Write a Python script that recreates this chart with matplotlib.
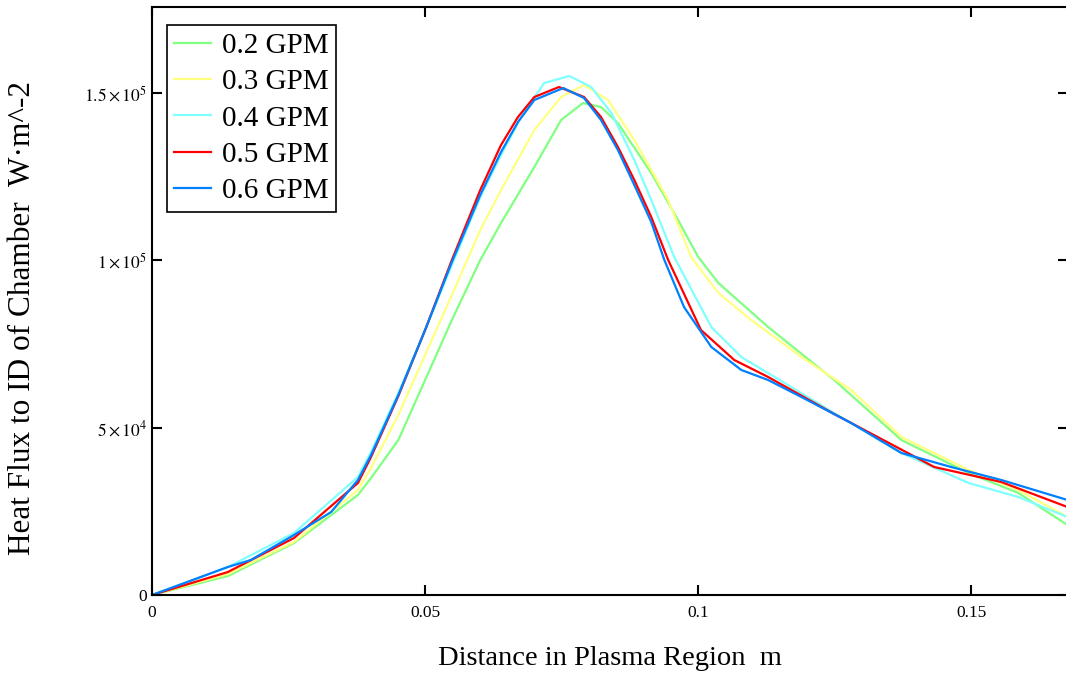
import numpy as np
import matplotlib
matplotlib.use("Agg")
import matplotlib.pyplot as plt
from matplotlib.ticker import FixedLocator, FuncFormatter

plt.rcParams['font.family'] = ['Liberation Serif', 'DejaVu Serif']
plt.rcParams['mathtext.fontset'] = 'stix'

# distance (m) and heat flux (W/m^2), one set per flow rate
x_02 = [0, 0.0139, 0.0260, 0.0377, 0.0401, 0.0451, 0.0500, 0.0549, 0.0601, 0.0639, 0.0700,
        0.0749, 0.0789, 0.0822, 0.0853, 0.0914, 0.0956, 0.1000, 0.1037, 0.1128, 0.1249,
        0.1372, 0.1495, 0.1586, 0.1676]
y_02 = [0, 5680, 15540, 29880, 34960, 46310, 64240, 82170, 100100, 111150, 127890,
        141930, 147010, 145810, 141030, 126090, 114140, 101000, 93230, 80080, 64240,
        46310, 36450, 30480, 20920]

x_03 = [0, 0.0139, 0.0260, 0.0377, 0.0401, 0.0451, 0.0500, 0.0549, 0.0601, 0.0639, 0.0700,
        0.0749, 0.0791, 0.0835, 0.0883, 0.0945, 0.0987, 0.1037, 0.1097, 0.1189, 0.1280,
        0.1372, 0.1495, 0.1586, 0.1676]
y_03 = [0, 6270, 15840, 31370, 37950, 53780, 71710, 89640, 109060, 121010, 138940,
        148800, 152390, 147910, 135950, 118030, 101000, 90240, 82170, 71110, 61250,
        47210, 37350, 31370, 23310]

x_04 = [0, 0.0139, 0.0260, 0.0377, 0.0401, 0.0451, 0.0500, 0.0549, 0.0601, 0.0639, 0.0676,
        0.0718, 0.0764, 0.0804, 0.0841, 0.0883, 0.0914, 0.0956, 0.1024, 0.1079, 0.1158,
        0.1249, 0.1372, 0.1495, 0.1586, 0.1676]
y_04 = [0, 8370, 18530, 35260, 42730, 60360, 79180, 98600, 118920, 131470, 142830,
        152990, 155080, 151790, 144020, 129980, 118030, 101000, 80080, 71110, 63350,
        54380, 42430, 33470, 29280, 23310]

x_05 = [0, 0.0139, 0.0260, 0.0377, 0.0401, 0.0451, 0.0500, 0.0549, 0.0601, 0.0639, 0.0670,
        0.0700, 0.0745, 0.0791, 0.0822, 0.0853, 0.0883, 0.0914, 0.0945, 0.1005, 0.1066,
        0.1128, 0.1249, 0.1432, 0.1555, 0.1676]
y_05 = [0, 6870, 17030, 33470, 41230, 59460, 79180, 100100, 121010, 134460, 142830,
        148800, 151790, 148800, 142830, 133860, 124000, 112950, 100100, 79180, 70220,
        65140, 54080, 38250, 33760, 26290]

x_06 = [0, 0.0139, 0.0181, 0.0260, 0.0328, 0.0377, 0.0401, 0.0451, 0.0500, 0.0549, 0.0601,
        0.0639, 0.0670, 0.0700, 0.0753, 0.0791, 0.0822, 0.0853, 0.0883, 0.0914, 0.0938,
        0.0974, 0.1024, 0.1079, 0.1128, 0.1189, 0.1280, 0.1372, 0.1463, 0.1555, 0.1676]
y_06 = [0, 8370, 10460, 17930, 24800, 34360, 41830, 59760, 79180, 99500, 119520,
        132370, 141330, 147910, 151490, 148500, 141930, 132970, 122510, 111450, 100100,
        86050, 74100, 67230, 64240, 59160, 51390, 42430, 38250, 34360, 28390]

labels = ['0.2 GPM', '0.3 GPM', '0.4 GPM', '0.5 GPM', '0.6 GPM']
colors = ['#80ff80', '#ffff80', '#80ffff', '#ff0000', '#0080ff']

fig = plt.figure(figsize=(10.66, 6.75), dpi=100)
ax = fig.add_axes([152 / 1066, 80 / 675, 916 / 1066, 588 / 675])

xs = [x_02, x_03, x_04, x_05, x_06]
ys = [y_02, y_03, y_04, y_05, y_06]
for x, y, lab, c in zip(xs, ys, labels, colors):
    ax.plot(x, y, color=c, lw=1.6, label=lab)

ax.set_xlim(0, 0.1677)
ax.set_ylim(0, 1.757e5)

ax.xaxis.set_major_locator(FixedLocator([0, 0.05, 0.1, 0.15]))
ax.yaxis.set_major_locator(FixedLocator([0, 5e4, 1e5, 1.5e5]))
ax.xaxis.set_major_formatter(FuncFormatter(lambda v, p: '0' if v == 0 else ('%g' % v)))
ylabs = {0: '0', 5e4: r'$5\times10^{4}$', 1e5: r'$1\times10^{5}$', 1.5e5: r'$1.5\times10^{5}$'}
ax.yaxis.set_major_formatter(FuncFormatter(lambda v, p: ylabs.get(v, '')))

ax.tick_params(direction='in', length=7, width=1.5, top=True, right=True,
               labelsize=12.5)
ax.tick_params(axis='x', pad=7)
ax.tick_params(axis='y', pad=3.5)
for s in ax.spines.values():
    s.set_linewidth(1.5)

ax.set_xlabel('Distance in Plasma Region  m', fontsize=20.5)
ax.set_ylabel('Heat Flux to ID of Chamber  W\u00b7m^-2', fontsize=22.5)
ax.xaxis.set_label_coords(0.5, -0.086)
ax.yaxis.set_label_coords(-0.125, 0.471)

leg = ax.legend(loc='upper left', bbox_to_anchor=(0.0164, 0.969), fontsize=21,
                fancybox=False, edgecolor='black', framealpha=1, borderaxespad=0,
                handlelength=1.25, handletextpad=0.4, labelspacing=0.34,
                borderpad=0.25)
leg.get_frame().set_linewidth(1.2)

plt.savefig('out.png', dpi=100)
